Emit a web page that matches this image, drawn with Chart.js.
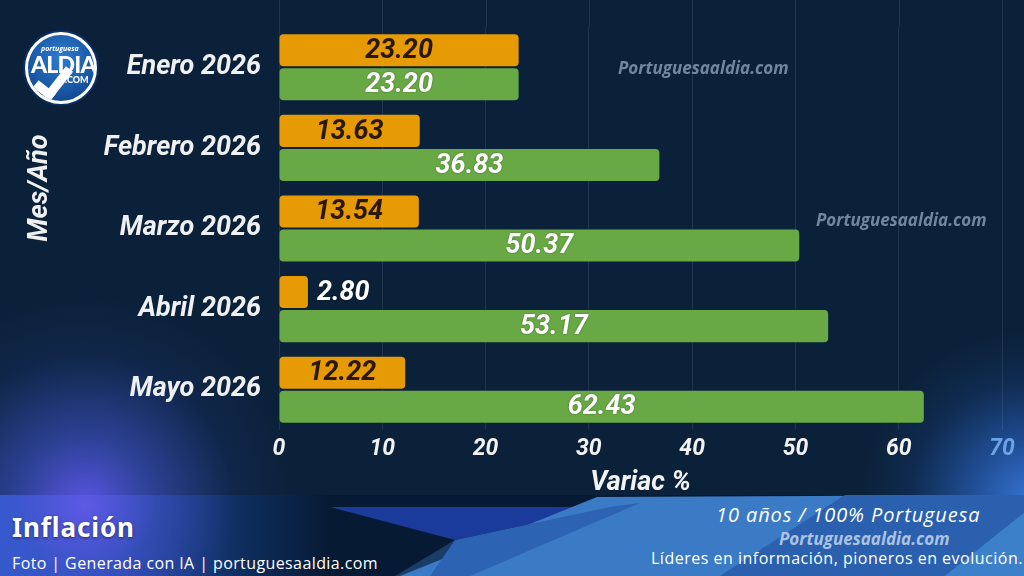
<!DOCTYPE html>
<html>
<head>
<meta charset="utf-8">
<script src="https://cdn.jsdelivr.net/npm/chart.js@4/dist/chart.umd.min.js"></script>
<style>
  html,body{margin:0;padding:0;}
  body{width:1024px;height:576px;overflow:hidden;background:#0b2139;position:relative;font-family:Roboto,sans-serif;}
  #glowL{position:absolute;left:0;top:0;width:1024px;height:576px;
    background:radial-gradient(circle at 85px 505px, rgba(92,88,235,0.95) 0px, rgba(70,90,220,0.55) 70px, rgba(40,70,170,0.15) 150px, rgba(11,33,57,0) 210px);}
  #glowR{position:absolute;left:0;top:0;width:1024px;height:576px;
    background:radial-gradient(circle at 1030px 500px, rgba(55,120,220,0.95) 0px, rgba(45,105,205,0.6) 60px, rgba(30,80,170,0.2) 120px, rgba(11,33,57,0) 170px);}
  #wrap{position:absolute;left:0;top:0;width:1024px;height:576px;}
  .wm{position:absolute;font-family:"Open Sans",sans-serif;font-weight:700;font-style:italic;font-size:17px;color:rgba(140,160,184,0.8);white-space:nowrap;line-height:20px;}
  #banner{position:absolute;left:0;top:495px;width:1024px;height:81px;overflow:hidden;}
  #banner .ly{position:absolute;left:0;top:0;width:1024px;height:81px;}
  #b0{background:linear-gradient(90deg,#2c58c8 0px,#2448a8 120px,#0d2c5a 250px,#071a34 330px,#071a34 1024px);}
  #b0g{background:radial-gradient(circle at 85px 10px, rgba(100,90,235,0.9) 0px, rgba(80,90,220,0.4) 70px, rgba(40,70,170,0) 150px);}
  #b1{background:#1b3b9c;clip-path:polygon(330px 12px,610px 12px,455px 45px);}
  #b2{background:#1a3d68;clip-path:polygon(455px 45px,520px 35px,470px 81px,395px 81px);}
  #b3{background:#3b7ac4;clip-path:polygon(597px 2px,1024px 0px,1024px 81px,400px 81px);}
  #b4{background:#2c63b2;clip-path:polygon(610px 12px,640px 8px,470px 81px,430px 81px,455px 45px);}
  #b5{background:#2a60ae;clip-path:polygon(845px 0px,1024px 0px,1024px 18px,945px 81px,720px 81px);}
  #b6{background:#3d80ca;clip-path:polygon(1024px 18px,1024px 81px,945px 81px);}
  .bt{position:absolute;white-space:nowrap;color:#fff;}
  #logo{position:absolute;left:25px;top:32px;width:66px;height:66px;border-radius:50%;border:3px solid #fff;
    background:radial-gradient(circle at 50% 35%,#2f7cd0 0%,#1a5aa8 55%,#0d3b80 100%);box-shadow:0 0 0 2px #0a2e66;overflow:hidden;}
  #logo .lp{position:absolute;left:13px;top:9px;font:italic 700 7px "Open Sans",sans-serif;color:#fff;}
  #logo .la{position:absolute;left:3px;top:15px;font:900 23px Lato,sans-serif;color:#fff;letter-spacing:-0.8px;}
  #logo .lc{position:absolute;left:37px;top:39px;font:900 9px Lato,sans-serif;color:#fff;}
  #logo .chk{position:absolute;left:14px;top:26px;width:13px;height:28px;border-right:9px solid #fff;border-bottom:9px solid #fff;transform:rotate(38deg);}
</style>
</head>
<body>
<div id="glowL"></div>
<div id="glowR"></div>
<div id="wrap"><canvas id="c" width="1024" height="576"></canvas></div>
<div class="wm" style="left:618px;top:58px;">Portuguesaaldia.com</div>
<div class="wm" style="left:816px;top:210px;">Portuguesaaldia.com</div>
<div id="logo"><span class="lp">portuguesa</span><span class="la">ALDIA</span><span class="lc">.COM</span><div class="chk"></div></div>
<div id="banner">
  <div class="ly" id="b0"></div>
  <div class="ly" id="b0g"></div>
  <div class="ly" id="b1"></div>
  <div class="ly" id="b2"></div>
  <div class="ly" id="b3"></div>
  <div class="ly" id="b4"></div>
  <div class="ly" id="b5"></div>
  <div class="ly" id="b6"></div>
  <div class="bt" style="left:12px;top:14px;font:700 26px 'Noto Sans',sans-serif;letter-spacing:0.9px;text-shadow:0 1px 3px rgba(0,0,0,0.5);">Inflación</div>
  <div class="bt" style="left:12px;top:57px;font:400 16px 'Open Sans',sans-serif;letter-spacing:0.4px;">Foto | Generada con IA | portuguesaaldia.com</div>
  <div class="bt" style="left:716px;top:6px;font:italic 400 20px 'Open Sans',sans-serif;letter-spacing:0.9px;">10 años / 100% Portuguesa</div>
  <div class="bt" style="left:779px;top:32px;font:italic 700 17px 'Open Sans',sans-serif;color:#aac3e2;">Portuguesaaldia.com</div>
  <div class="bt" style="left:651px;top:52px;font:400 16px 'Open Sans',sans-serif;letter-spacing:0.5px;">Líderes en información, pioneros en evolución.</div>
</div>
<script>
const categories = ['Enero 2026','Febrero 2026','Marzo 2026','Abril 2026','Mayo 2026'];
const monthlyValues = [23.20, 13.63, 13.54, 2.80, 12.22];
const cumulativeValues = [23.20, 36.83, 50.37, 53.17, 62.43];
const xTickValues = [0, 10, 20, 30, 40, 50, 60, 70];
const xAxisTitle = 'Variac %';
const yAxisTitle = 'Mes/Año';

const ORANGE = '#E69B05';
const GREEN = '#68A845';

const gridExtend = {
  id: 'gridExtend',
  beforeDatasetsDraw(chart) {
    const {ctx, chartArea, scales} = chart;
    ctx.save();
    ctx.strokeStyle = 'rgba(255,255,255,0.09)';
    ctx.lineWidth = 1;
    xTickValues.forEach(v => {
      const x = Math.round(scales.x.getPixelForValue(v)) + 0.5;
      ctx.beginPath();
      ctx.moveTo(x, 0);
      ctx.lineTo(x, chartArea.top);
      ctx.stroke();
    });
    ctx.restore();
  }
};

const valueLabels = {
  id: 'valueLabels',
  afterDatasetsDraw(chart) {
    const {ctx} = chart;
    ctx.save();
    ctx.font = 'italic 700 27px Roboto';
    ctx.textBaseline = 'middle';
    chart.data.datasets.forEach((ds, di) => {
      const meta = chart.getDatasetMeta(di);
      meta.data.forEach((bar, i) => {
        const txt = ds.data[i].toFixed(2);
        const w = ctx.measureText(txt).width;
        const len = Math.abs(bar.x - bar.base);
        if (len > w + 10) {
          ctx.textAlign = 'center';
          ctx.fillStyle = di === 0 ? '#2a1800' : '#ffffff';
          ctx.shadowColor = di === 0 ? 'rgba(0,0,0,0)' : 'rgba(0,0,0,0.35)';
          ctx.shadowBlur = 2;
          ctx.fillText(txt, (bar.x + bar.base) / 2, bar.y + 1);
        } else {
          ctx.textAlign = 'left';
          ctx.fillStyle = '#ffffff';
          ctx.shadowColor = 'rgba(0,0,0,0.35)';
          ctx.shadowBlur = 2;
          ctx.fillText(txt, bar.x + 9, bar.y + 1);
        }
      });
    });
    ctx.restore();
  }
};

const yTitle = {
  id: 'yTitle',
  afterDraw(chart) {
    const {ctx} = chart;
    ctx.save();
    ctx.translate(40, 188);
    ctx.rotate(-Math.PI / 2);
    ctx.font = 'italic 700 27px Roboto';
    ctx.fillStyle = '#eef0f2';
    ctx.textAlign = 'center';
    ctx.textBaseline = 'middle';
    ctx.fillText(yAxisTitle, 0, 0);
    ctx.restore();
  }
};

new Chart(document.getElementById('c'), {
  type: 'bar',
  data: {
    labels: categories,
    datasets: [
      { label: 'Mensual', data: monthlyValues, backgroundColor: ORANGE, borderRadius: 4, borderSkipped: false,
        categoryPercentage: 0.845, barPercentage: 0.94 },
      { label: 'Acumulada', data: cumulativeValues, backgroundColor: GREEN, borderRadius: 4, borderSkipped: false,
        categoryPercentage: 0.845, barPercentage: 0.94 }
    ]
  },
  options: {
    indexAxis: 'y',
    responsive: false,
    animation: false,
    events: [],
    layout: { padding: { left: 0, right: 22, top: 27, bottom: 77 } },
    plugins: { legend: { display: false }, tooltip: { enabled: false } },
    scales: {
      x: {
        type: 'linear',
        min: 0, max: 70,
        afterFit(s) { s.height = 69; s.paddingLeft = 0; s.paddingRight = 0; },
        afterBuildTicks(s) { s.ticks = xTickValues.map(v => ({ value: v })); },
        grid: { color: 'rgba(255,255,255,0.09)', drawTicks: false },
        border: { display: false },
        ticks: {
          padding: 5,
          font: { family: 'Roboto', size: 23, weight: '700', style: 'italic' },
          color: (c) => c.tick && c.tick.value === 70 ? '#6ea4e6' : '#f2f2f2'
        },
        title: {
          display: true, text: xAxisTitle, color: '#f2f2f2',
          font: { family: 'Roboto', size: 27, weight: '700', style: 'italic' },
          padding: { top: 0, bottom: 0 }
        }
      },
      y: {
        afterFit(s) { s.width = 279; s.paddingTop = 0; s.paddingBottom = 0; },
        grid: { display: false, drawTicks: false },
        border: { display: false },
        ticks: {
          padding: 18,
          font: { family: 'Roboto', size: 27, weight: '700', style: 'italic' },
          color: '#eef0f2'
        }
      }
    }
  },
  plugins: [gridExtend, valueLabels, yTitle]
});
</script>
</body>
</html>
